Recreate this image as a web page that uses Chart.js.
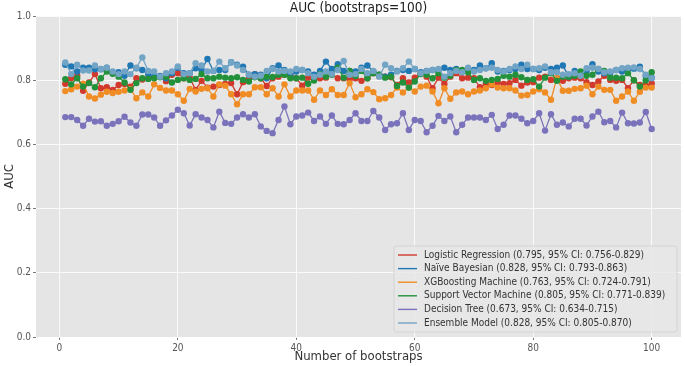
<!DOCTYPE html>
<html>
<head>
<meta charset="utf-8">
<script src="https://cdn.jsdelivr.net/npm/chart.js@4.4.1/dist/chart.umd.min.js"></script>
<style>
  html, body { margin: 0; padding: 0; background: #fff; }
  #wrap { width: 685px; height: 366px; position: relative; }
</style>
</head>
<body>
<div id="wrap"><canvas id="auc-chart" width="685" height="366"></canvas></div>
<script>
const TITLE = "AUC (bootstraps=100)";
const X_LABEL = "Number of bootstraps";
const Y_LABEL = "AUC";
const X_TICKS = [0, 20, 40, 60, 80, 100];
const Y_TICKS = [0, 0.2, 0.4, 0.6, 0.8, 1.0];

const bootstraps = Array.from({ length: 100 }, (_, i) => i + 1);

const logistic = [
  0.789, 0.806, 0.815, 0.767, 0.793, 0.819, 0.775, 0.778, 0.770, 0.785, 0.788, 0.780, 0.806, 0.802, 0.806, 0.808, 0.811, 0.797, 0.817,
  0.822, 0.806, 0.808, 0.770, 0.798, 0.777, 0.780, 0.785, 0.788, 0.791, 0.756, 0.794, 0.806, 0.819, 0.806, 0.782, 0.806, 0.811, 0.817, 0.819,
  0.806, 0.783, 0.808, 0.806, 0.806, 0.808, 0.819, 0.806, 0.806, 0.803, 0.806, 0.798, 0.806, 0.822, 0.813, 0.811, 0.809, 0.785, 0.806, 0.793,
  0.808, 0.822, 0.811, 0.775, 0.808, 0.788, 0.811, 0.822, 0.806, 0.808, 0.806, 0.778, 0.788, 0.785, 0.793, 0.788, 0.791, 0.801, 0.783, 0.793,
  0.794, 0.808, 0.811, 0.801, 0.806, 0.798, 0.806, 0.808, 0.806, 0.794, 0.785, 0.796, 0.814, 0.801, 0.798, 0.801, 0.775, 0.800, 0.785, 0.783, 0.790,
];
const naiveBayes = [
  0.848, 0.843, 0.827, 0.839, 0.839, 0.834, 0.834, 0.839, 0.822, 0.825, 0.814, 0.846, 0.837, 0.832, 0.819, 0.811, 0.813, 0.806, 0.822,
  0.839, 0.822, 0.822, 0.837, 0.832, 0.866, 0.829, 0.832, 0.832, 0.856, 0.848, 0.842, 0.817, 0.819, 0.817, 0.806, 0.837, 0.846, 0.832, 0.817,
  0.827, 0.832, 0.827, 0.817, 0.829, 0.858, 0.835, 0.850, 0.829, 0.829, 0.827, 0.839, 0.846, 0.827, 0.817, 0.811, 0.817, 0.829, 0.832, 0.829,
  0.835, 0.825, 0.829, 0.832, 0.832, 0.839, 0.832, 0.835, 0.829, 0.832, 0.832, 0.846, 0.837, 0.853, 0.827, 0.829, 0.832, 0.835, 0.848, 0.835,
  0.835, 0.832, 0.839, 0.835, 0.839, 0.846, 0.811, 0.829, 0.822, 0.827, 0.850, 0.827, 0.822, 0.822, 0.832, 0.827, 0.835, 0.836, 0.842, 0.814, 0.808,
];
const xgboost = [
  0.766, 0.772, 0.780, 0.789, 0.749, 0.743, 0.755, 0.764, 0.760, 0.764, 0.768, 0.772, 0.744, 0.762, 0.749, 0.787, 0.776, 0.768, 0.768,
  0.756, 0.736, 0.773, 0.765, 0.773, 0.775, 0.749, 0.787, 0.783, 0.756, 0.725, 0.756, 0.756, 0.778, 0.778, 0.756, 0.775, 0.749, 0.787, 0.749,
  0.768, 0.768, 0.768, 0.739, 0.768, 0.754, 0.772, 0.754, 0.754, 0.791, 0.747, 0.756, 0.772, 0.763, 0.741, 0.744, 0.754, 0.777, 0.762, 0.777,
  0.765, 0.780, 0.783, 0.765, 0.728, 0.775, 0.742, 0.762, 0.765, 0.756, 0.765, 0.768, 0.775, 0.787, 0.777, 0.775, 0.775, 0.768, 0.752, 0.754,
  0.765, 0.772, 0.762, 0.739, 0.808, 0.767, 0.767, 0.773, 0.775, 0.783, 0.756, 0.780, 0.770, 0.770, 0.736, 0.749, 0.765, 0.736, 0.764, 0.777, 0.777,
];
const svm = [
  0.803, 0.787, 0.806, 0.780, 0.791, 0.778, 0.806, 0.827, 0.820, 0.811, 0.793, 0.770, 0.791, 0.806, 0.804, 0.806, 0.809, 0.811, 0.793,
  0.801, 0.806, 0.801, 0.804, 0.819, 0.806, 0.806, 0.811, 0.808, 0.806, 0.809, 0.801, 0.796, 0.809, 0.806, 0.811, 0.810, 0.817, 0.817, 0.806,
  0.806, 0.808, 0.789, 0.799, 0.819, 0.811, 0.817, 0.839, 0.808, 0.829, 0.813, 0.829, 0.806, 0.822, 0.817, 0.808, 0.811, 0.782, 0.793, 0.777,
  0.796, 0.819, 0.817, 0.806, 0.822, 0.808, 0.814, 0.832, 0.832, 0.825, 0.801, 0.806, 0.798, 0.801, 0.804, 0.814, 0.811, 0.817, 0.809, 0.801,
  0.803, 0.780, 0.808, 0.822, 0.798, 0.811, 0.811, 0.814, 0.827, 0.814, 0.817, 0.835, 0.829, 0.808, 0.808, 0.806, 0.822, 0.800, 0.780, 0.800, 0.825,
];
const decisionTree = [
  0.685, 0.685, 0.676, 0.658, 0.680, 0.671, 0.672, 0.658, 0.664, 0.672, 0.686, 0.668, 0.658, 0.693, 0.693, 0.684, 0.658, 0.675, 0.690,
  0.708, 0.697, 0.659, 0.694, 0.684, 0.676, 0.653, 0.702, 0.667, 0.664, 0.684, 0.694, 0.684, 0.694, 0.656, 0.642, 0.635, 0.676, 0.718, 0.663,
  0.687, 0.690, 0.699, 0.673, 0.687, 0.664, 0.690, 0.664, 0.663, 0.676, 0.697, 0.673, 0.673, 0.704, 0.684, 0.645, 0.663, 0.666, 0.697, 0.645,
  0.676, 0.673, 0.638, 0.658, 0.689, 0.673, 0.687, 0.638, 0.661, 0.684, 0.684, 0.684, 0.676, 0.692, 0.648, 0.661, 0.690, 0.690, 0.680, 0.666,
  0.673, 0.697, 0.643, 0.694, 0.661, 0.668, 0.656, 0.680, 0.680, 0.659, 0.687, 0.702, 0.669, 0.673, 0.653, 0.699, 0.666, 0.665, 0.668, 0.701, 0.648,
];
const ensemble = [
  0.855, 0.819, 0.848, 0.830, 0.830, 0.846, 0.835, 0.839, 0.827, 0.819, 0.827, 0.819, 0.839, 0.871, 0.829, 0.827, 0.811, 0.822, 0.827,
  0.843, 0.819, 0.822, 0.853, 0.846, 0.827, 0.829, 0.858, 0.837, 0.856, 0.846, 0.832, 0.817, 0.811, 0.814, 0.829, 0.835, 0.827, 0.829, 0.827,
  0.835, 0.832, 0.822, 0.811, 0.817, 0.827, 0.819, 0.832, 0.860, 0.817, 0.819, 0.835, 0.822, 0.829, 0.811, 0.848, 0.837, 0.827, 0.837, 0.858,
  0.835, 0.822, 0.829, 0.832, 0.835, 0.811, 0.822, 0.829, 0.825, 0.839, 0.827, 0.832, 0.837, 0.839, 0.832, 0.827, 0.835, 0.843, 0.835, 0.848,
  0.835, 0.837, 0.843, 0.825, 0.825, 0.817, 0.819, 0.822, 0.814, 0.837, 0.839, 0.835, 0.825, 0.827, 0.832, 0.837, 0.839, 0.840, 0.835, 0.817, 0.806,
];

const SERIES = [
  { label: "Logistic Regression (0.795, 95% CI: 0.756-0.829)", data: logistic, color: "#d0392b" },
  { label: "Naïve Bayesian (0.828, 95% CI: 0.793-0.863)", data: naiveBayes, color: "#1f77b4" },
  { label: "XGBoosting Machine (0.763, 95% CI: 0.724-0.791)", data: xgboost, color: "#f08c24" },
  { label: "Support Vector Machine (0.805, 95% CI: 0.771-0.839)", data: svm, color: "#22913a" },
  { label: "Decision Tree (0.673, 95% CI: 0.634-0.715)", data: decisionTree, color: "#7a73bb" },
  { label: "Ensemble Model (0.828, 95% CI: 0.805-0.870)", data: ensemble, color: "#72a4c6" },
];

const FONT = "'DejaVu Sans Condensed', 'DejaVu Sans', sans-serif";

// title centred over the plot area, like matplotlib does
const titlePlugin = {
  id: "plotTitle",
  afterDraw(chart) {
    const { ctx, chartArea } = chart;
    ctx.save();
    ctx.font = "13.5px " + FONT;
    ctx.fillStyle = "#222";
    ctx.textAlign = "center";
    ctx.textBaseline = "middle";
    ctx.fillText(TITLE, (chartArea.left + chartArea.right) / 2, 8);
    ctx.restore();
  },
};

// boxed legend in the lower right corner
const legendPlugin = {
  id: "boxLegend",
  afterDatasetsDraw(chart) {
    const { ctx, chartArea } = chart;
    const x0 = chartArea.right - 287, y0 = chartArea.bottom - 91, w = 283, h = 86;
    ctx.save();
    ctx.beginPath();
    ctx.roundRect(x0, y0, w, h, 3);
    ctx.fillStyle = "rgba(232,232,232,0.85)";
    ctx.fill();
    ctx.strokeStyle = "#d4d4d4";
    ctx.lineWidth = 1;
    ctx.stroke();
    ctx.font = "10px " + FONT;
    ctx.textBaseline = "middle";
    SERIES.forEach((s, i) => {
      const y = y0 + 9 + i * 13.6;
      ctx.strokeStyle = s.color;
      ctx.lineWidth = 1.4;
      ctx.beginPath();
      ctx.moveTo(x0 + 4, y);
      ctx.lineTo(x0 + 23, y);
      ctx.stroke();
      ctx.fillStyle = "#333";
      ctx.fillText(s.label, x0 + 30, y);
    });
    ctx.restore();
  },
};

const bgPlugin = {
  id: "plotBg",
  beforeDraw(chart) {
    const { ctx, chartArea } = chart;
    ctx.save();
    ctx.fillStyle = "#e5e5e5";
    ctx.fillRect(chartArea.left, chartArea.top, chartArea.right - chartArea.left, chartArea.bottom - chartArea.top);
    ctx.restore();
  },
};

const datasets = SERIES.map((s, i) => ({
  label: s.label,
  data: s.data.map((v, k) => ({ x: bootstraps[k], y: v })),
  borderColor: s.color,
  backgroundColor: s.color,
  borderWidth: 1.3,
  pointRadius: 3.2,
  pointBorderWidth: 0,
  pointBackgroundColor: s.color,
  tension: 0,
  order: SERIES.length - i,
}));

new Chart(document.getElementById("auc-chart"), {
  type: "line",
  data: { datasets },
  plugins: [bgPlugin, titlePlugin, legendPlugin],
  options: {
    responsive: false,
    animation: false,
    layout: { padding: { top: 16, right: 4, left: 0, bottom: 0 } },
    plugins: { legend: { display: false }, tooltip: { enabled: false } },
    scales: {
      x: {
        type: "linear",
        min: -3.95,
        max: 104.95,
        afterBuildTicks: (scale) => { scale.ticks = X_TICKS.map((v) => ({ value: v })); },
        afterFit: (scale) => { scale.height = 29; },
        border: { display: false },
        grid: { color: "#ffffff", lineWidth: 0.8, borderDash: [2, 2], tickColor: "#555", tickLength: 3 },
        ticks: { color: "#555", font: { family: FONT, size: 10 }, padding: 2, maxRotation: 0 },
        title: { display: true, text: X_LABEL, color: "#333", font: { family: FONT, size: 13 }, padding: { top: 0, bottom: 2 } },
      },
      y: {
        min: 0,
        max: 1,
        afterBuildTicks: (scale) => { scale.ticks = Y_TICKS.map((v) => ({ value: v })); },
        afterFit: (scale) => { scale.width = 36; },
        border: { display: false },
        grid: { color: "#ffffff", lineWidth: 0.8, borderDash: [2, 2], tickColor: "#555", tickLength: 3 },
        ticks: { color: "#555", font: { family: FONT, size: 10 }, padding: 2, callback: (v) => Number(v).toFixed(1) },
        title: { display: true, text: Y_LABEL, color: "#333", font: { family: FONT, size: 13 }, padding: { top: 2, bottom: 0 } },
      },
    },
  },
});
</script>
</body>
</html>
